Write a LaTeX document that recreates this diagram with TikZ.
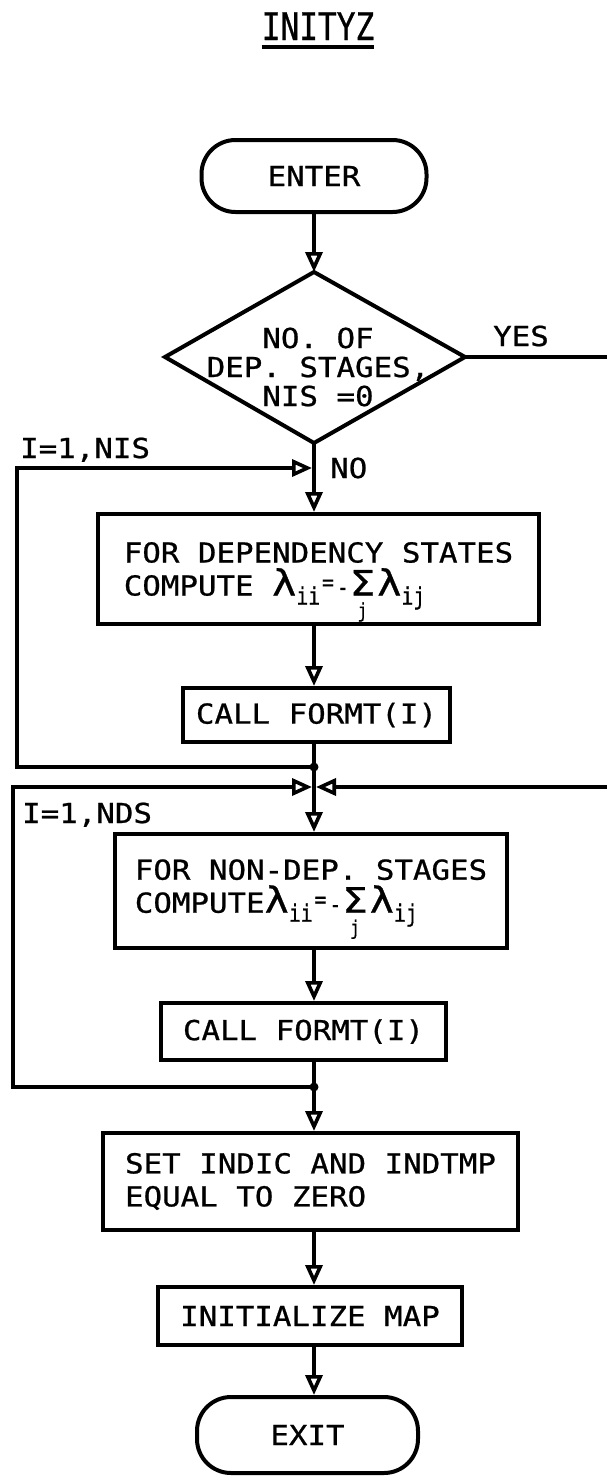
\documentclass[tikz,border=0pt]{standalone}
\usepackage{fontspec}
\setmainfont{DejaVu Sans Mono}[FakeStretch=1.12, FakeBold=0.8]
\newfontfamily\titlefont{DejaVu Sans Mono}[FakeStretch=0.82, FakeBold=0.8]
\newfontfamily\symf{DejaVu Sans}[FakeStretch=1.15, FakeBold=0.8]
\usetikzlibrary{arrows.meta}
\newcommand{\bx}{\fontsize{27.5}{33}\selectfont}
\newcommand{\sbf}{\titlefont\fontsize{24}{24}\selectfont}
\newcommand{\jf}{\titlefont\fontsize{20}{20}\selectfont}
\newcommand{\lamb}{{\fontsize{36}{36}\selectfont λ}}
\newcommand{\sigj}{\sbox0{\symf\fontsize{35}{35}\selectfont Σ}\usebox0\llap{\makebox[\wd0]{\raisebox{-22pt}[0pt][0pt]{\jf j}}}}
\newcommand{\formula}[1]{\raisebox{0pt}[\height][#1]{\lamb\raisebox{-9pt}[0pt][0pt]{\sbf ii}\hspace{2pt}\raisebox{5pt}{\sbf =}\hspace{3pt}{\sbf -}\hspace{1pt}\sigj\hspace{2pt}\lamb\raisebox{-9pt}[0pt][0pt]{\sbf ij}}}
\tikzset{
  line/.style={line width=3.6pt},
  box/.style={draw, line width=4pt, rectangle, inner sep=0pt, font=\bx, align=left},
  term/.style={box, rounded corners=34pt, align=center},
  flow/.style={line, -{Triangle[open,length=20pt,width=17pt]}},
  lbl/.style={font=\bx, inner sep=0pt},
}
\begin{document}
\begin{tikzpicture}[x=1pt,y=-1pt]
\useasboundingbox (0,0) rectangle (607,1476);
% title
\node[font=\titlefont\fontsize{38}{38}\selectfont, inner sep=0pt, anchor=base] (title) at (318,40) {INITYZ};
\draw[line width=4pt] ([yshift=-7pt]title.base west) -- ([yshift=-7pt]title.base east);
% spine
\coordinate (sp) at (314,0);
% terminals and boxes
\node[term, minimum width=225pt, minimum height=72pt] (enter) at (314,176) {ENTER};
\coordinate (dT) at (314,272);
\coordinate (dL) at (165,357);
\coordinate (dR) at (465,357);
\coordinate (dB) at (314,443);
\draw[line width=4pt, line join=miter] (dT) -- (dR) -- (dB) -- (dL) -- cycle;
\node[lbl, align=center, font=\fontsize{27.5}{29}\selectfont] (dtext) at (318,367) {NO. OF\\DEP. STAGES,\\NIS =0};
\node[lbl, anchor=base west] (yes) at (493,346) {YES};
\node[lbl, anchor=base west] (no) at (330,478) {NO};
\node[lbl, anchor=base west] (lab1) at (20,458) {I=1,NIS};
\node[lbl, anchor=base west] (lab2) at (22,823) {I=1,NDS};

\node[box, minimum width=441pt, minimum height=110pt] (dep) at (318.5,569) {FOR DEPENDENCY STATES\\COMPUTE \formula{0pt}};
\node[box, minimum width=267pt, minimum height=54pt] (callA) at (316.5,715) {CALL FORMT(I)};
\node[box, minimum width=392pt, minimum height=114pt] (nondep) at (311,891) {FOR NON-DEP. STAGES\\COMPUTE\formula{10pt}};
\node[box, minimum width=285pt, minimum height=57pt] (callB) at (303.5,1031.5) {CALL FORMT(I)};
\node[box, minimum width=415pt, minimum height=97pt] (set) at (310.5,1181.5) {SET INDIC AND INDTMP\\EQUAL TO ZERO};
\node[box, minimum width=304pt, minimum height=58pt] (init) at (310,1316) {INITIALIZE MAP};
\node[term, minimum width=221pt, minimum height=76pt] (exit) at (307.5,1435) {EXIT};

% junctions
\coordinate (j1) at (314,767);
\coordinate (cr) at (314,787);
\coordinate (j2) at (314,1087);
\coordinate (l1) at (17,0);
\coordinate (l2) at (13,0);
\coordinate (lt1) at (314,468);
\coordinate (rx) at (640,0);

% spine connectors
\draw[flow] (enter.south -| sp) -- (dT);
\draw[flow] (dB) -- (dep.north -| sp);
\draw[flow] (dep.south -| sp) -- (callA.north -| sp);
\draw[line] (callA.south -| sp) -- (j1);
\draw[flow] (j1) -- (nondep.north -| sp);
\draw[flow] (nondep.south -| sp) -- (callB.north -| sp);
\draw[line] (callB.south -| sp) -- (j2);
\draw[flow] (j2) -- (set.north -| sp);
\draw[flow] (set.south -| sp) -- (init.north -| sp);
\draw[flow] (init.south -| sp) -- (exit.north -| sp);

% loops
\draw[flow, line join=miter] (j1) -- (j1 -| l1) -- (lt1 -| l1) -- ([xshift=-2pt]lt1);
\draw[flow, line join=miter] (j2) -- (j2 -| l2) -- (cr -| l2) -- ([xshift=-2pt]cr);
\begin{scope}
\clip (0,0) rectangle (607,1476);
\draw[flow, line join=miter] (dR) -- (dR -| rx) -- (cr -| rx) -- ([xshift=2pt]cr);
\end{scope}
\fill (j1) circle (4.5pt);
\fill (j2) circle (4.5pt);
\end{tikzpicture}
\end{document}
